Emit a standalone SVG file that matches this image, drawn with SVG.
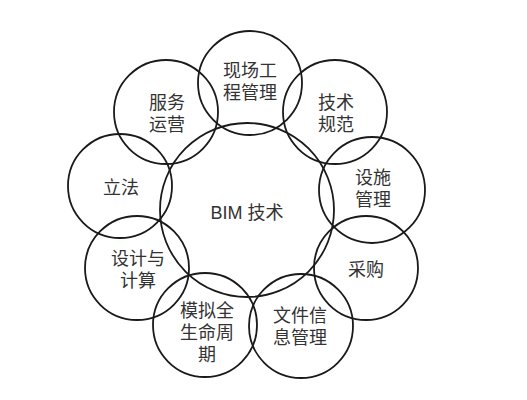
<svg xmlns="http://www.w3.org/2000/svg" width="527" height="400" viewBox="0 0 527 400">
<style>
.c{fill:none;stroke:#1a1a1a;stroke-width:1.8}
.t{font-family:"Liberation Sans","Noto Sans CJK SC",sans-serif;font-size:18px;fill:#333;text-anchor:middle;dominant-baseline:central}
</style>
<rect width="527" height="400" fill="#fff"/>
<g id="center"><circle class="c" cx="247" cy="210" r="87"/><text class="t" x="247" y="213">BIM 技术</text></g>
<g id="n1"><circle class="c" cx="250" cy="83" r="52"/><text class="t" x="250" y="71">现场工</text><text class="t" x="250" y="93">程管理</text></g>
<g id="n2"><circle class="c" cx="335" cy="112" r="52"/><text class="t" x="336" y="103">技术</text><text class="t" x="336" y="125">规范</text></g>
<g id="n3"><circle class="c" cx="372" cy="190" r="53"/><text class="t" x="373" y="178">设施</text><text class="t" x="373" y="200">管理</text></g>
<g id="n4"><circle class="c" cx="366" cy="268" r="52"/><text class="t" x="366" y="270">采购</text></g>
<g id="n5"><circle class="c" cx="301" cy="326" r="52"/><text class="t" x="300" y="316">文件信</text><text class="t" x="300" y="338">息管理</text></g>
<g id="n6"><circle class="c" cx="205" cy="325" r="52"/><text class="t" x="207" y="311">模拟全</text><text class="t" x="207" y="333">生命周</text><text class="t" x="207" y="355">期</text></g>
<g id="n7"><circle class="c" cx="137" cy="268" r="52"/><text class="t" x="138" y="259">设计与</text><text class="t" x="138" y="281">计算</text></g>
<g id="n8"><circle class="c" cx="120" cy="186" r="52"/><text class="t" x="121" y="188">立法</text></g>
<g id="n9"><circle class="c" cx="166" cy="112" r="52"/><text class="t" x="167" y="103">服务</text><text class="t" x="167" y="125">运营</text></g>
<g id="connectors"></g>
</svg>
